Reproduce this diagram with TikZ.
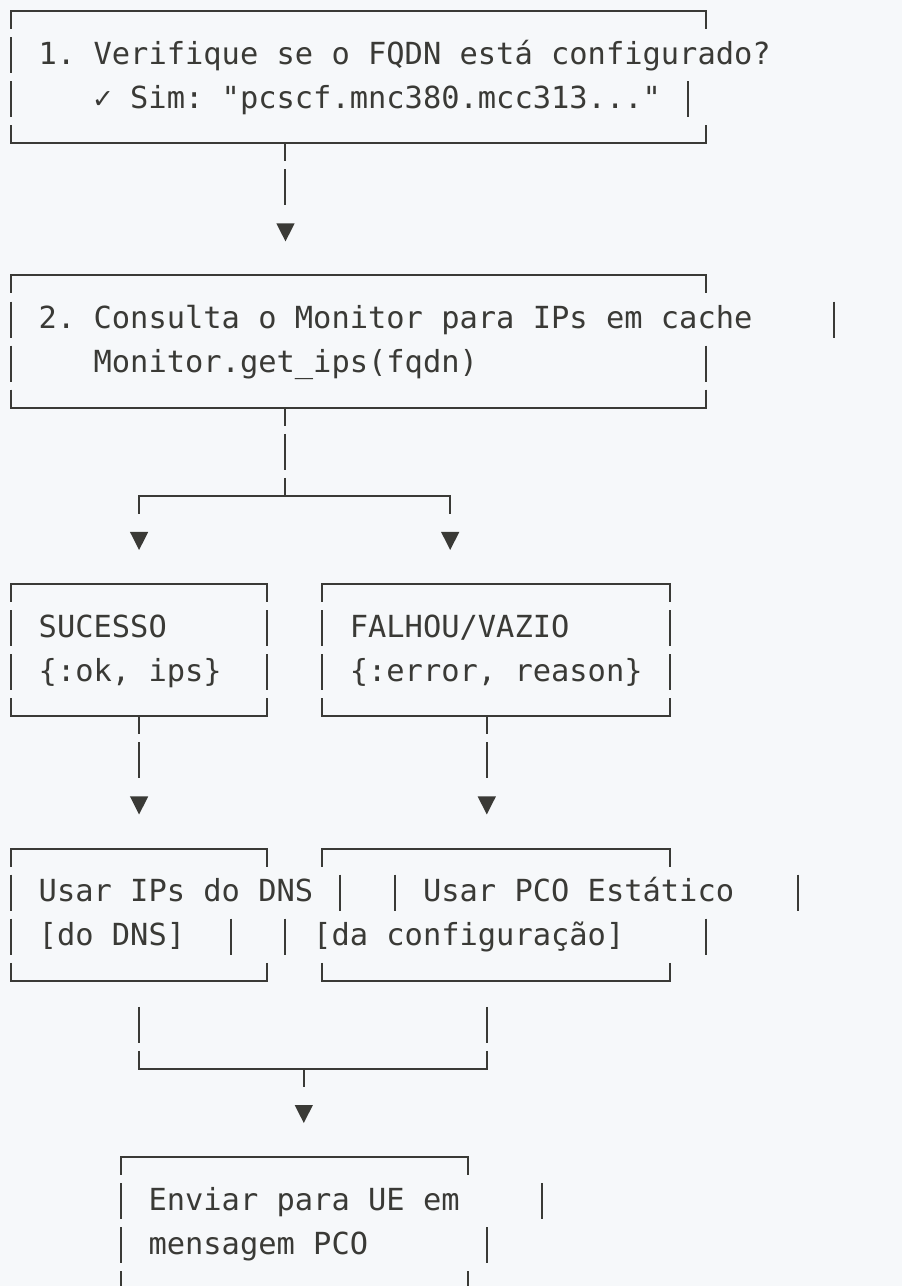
\documentclass[tikz,border=0pt]{standalone}
\usepackage{fontspec}
\setmonofont{DejaVu Sans Mono}
\usepackage{xcolor}
\usepackage{tikz}
\usetikzlibrary{arrows.meta,positioning,calc}
\definecolor{Ink}{HTML}{3A3A36}
\definecolor{Paper}{HTML}{F6F8FA}

\begin{document}
\begin{tikzpicture}[x=13.725pt,y=-33.06pt,
txt/.style={anchor=base west,inner sep=0pt,text=Ink,font=\ttfamily\fontsize{22.8pt}{33pt}\selectfont},
panel/.style={rectangle,draw=none,inner sep=0pt,outer sep=0pt,anchor=north west,minimum height=3*33.06pt,minimum width=#1*13.725pt},
rule/.style={draw=Ink,line width=1.5pt},
edge/.style={rule,line cap=rect},
side/.style={rule,dash pattern=on 27pt off 6.06pt,dash phase=13.5pt},
corner/.style={rule,dash pattern=on 13.5pt off 72.18pt on 13.5pt},
drop/.style={rule,-{Triangle[length=13.5pt,width=13.7pt,line width=0pt]},shorten >=25.56pt,dash pattern=on 13.5pt off 6.06pt on 27pt off 200pt},
fall/.style={rule,-{Triangle[length=13.5pt,width=13.7pt,line width=0pt]},shorten >=25.56pt,dash pattern=on 13.5pt off 200pt},
gather/.style={rule,dash pattern=on 0pt off 19.56pt on 27pt off 6.06pt on 500pt}]
\path[fill=Paper,use as bounding box] (-0.601,-0.2495) rectangle (48.689,28.925);
\clip (-0.601,-0.2495) rectangle (48.689,28.925);

% boxes
\node[panel=38] (fqdn) at (0,0) {};
\node[panel=38] (monitor) at (0,6) {};
\node[panel=14] (ok) at (0,13) {};
\node[panel=19] (fail) at (17,13) {};
\node[panel=14] (dns) at (0,19) {};
\node[panel=19] (static) at (17,19) {};
\node[panel=19] (send) at (6,26) {};

% texts
\node[txt] (fqdn-a) at (1.5,1.21) {1. Verifique se o FQDN está configurado?};
\node[txt] (fqdn-b) at (4.5,2.21) {\makebox[13.725pt][l]{✓} Sim: "pcscf.mnc380.mcc313..."};
\node[txt] (monitor-a) at (1.5,7.21) {2. Consulta o Monitor para IPs em cache};
\node[txt] (monitor-b) at (4.5,8.21) {Monitor.get\_ips(fqdn)};
\node[txt] (ok-a) at (1.5,14.21) {SUCESSO};
\node[txt] (ok-b) at (1.5,15.21) {\{:ok, ips\}};
\node[txt] (fail-a) at (18.5,14.21) {FALHOU/VAZIO};
\node[txt] (fail-b) at (18.5,15.21) {\{:error, reason\}};
\node[txt] (dns-a) at (1.5,20.21) {Usar IPs do DNS};
\node[txt] (dns-b) at (1.5,21.21) {[do DNS]};
\node[txt] (static-a) at (22.5,20.21) {Usar PCO Estático};
\node[txt] (static-b) at (16.5,21.21) {[da configuração]};
\node[txt] (send-a) at (7.5,27.21) {Enviar para UE em};
\node[txt] (send-b) at (7.5,28.21) {mensagem PCO};

% frames
\foreach \b in {fqdn,monitor,ok,fail,dns,static,send}
  \draw[edge] (\b.north west) -- (\b.north east) (\b.south west) -- (\b.south east);
\foreach \b in {fqdn,monitor,ok,fail,dns,send}
  \draw[side] (\b.north west) -- (\b.south west);
\draw[side] (ok.north east) -- (ok.south east);
\draw[side] (fail.north east) -- (fail.south east);
\foreach \b in {fqdn,monitor,dns,static,send}
  \draw[corner] (\b.north east) -- (\b.south east);
\draw[corner] (static.north west) -- (static.south west);
% bars out of line
\foreach \c/\r in {37/2,45/7,38/8,18/20,12/21,21/20,15/21,43/20,38/21,29/27,26/28}
  \draw[rule] (\c,\r-0.408) -- (\c,\r+0.408);

% connectors
\coordinate (c7) at (7,0);
\coordinate (c15) at (15,0);
\coordinate (c24) at (24,0);
\coordinate (c26) at (26,0);
\coordinate (split) at (15,11);
\coordinate (merge) at (16,24);
\draw[drop] (fqdn.south -| c15) -- (monitor.north -| c15);
\draw[side] (monitor.south -| c15) -- (split);
\draw[edge] (split -| c7) -- (split -| c24);
\draw[fall] (split -| c7) -- (ok.north -| c7);
\draw[fall] (split -| c24) -- (fail.north -| c24);
\draw[drop] (ok.south -| c7) -- (dns.north -| c7);
\draw[drop] (fail.south -| c26) -- (static.north -| c26);
\draw[gather] (dns.south -| c7) |- (merge);
\draw[gather] (static.south -| c26) |- (merge);
\draw[fall] (merge) -- (send.north -| merge);
\end{tikzpicture}
\end{document}
